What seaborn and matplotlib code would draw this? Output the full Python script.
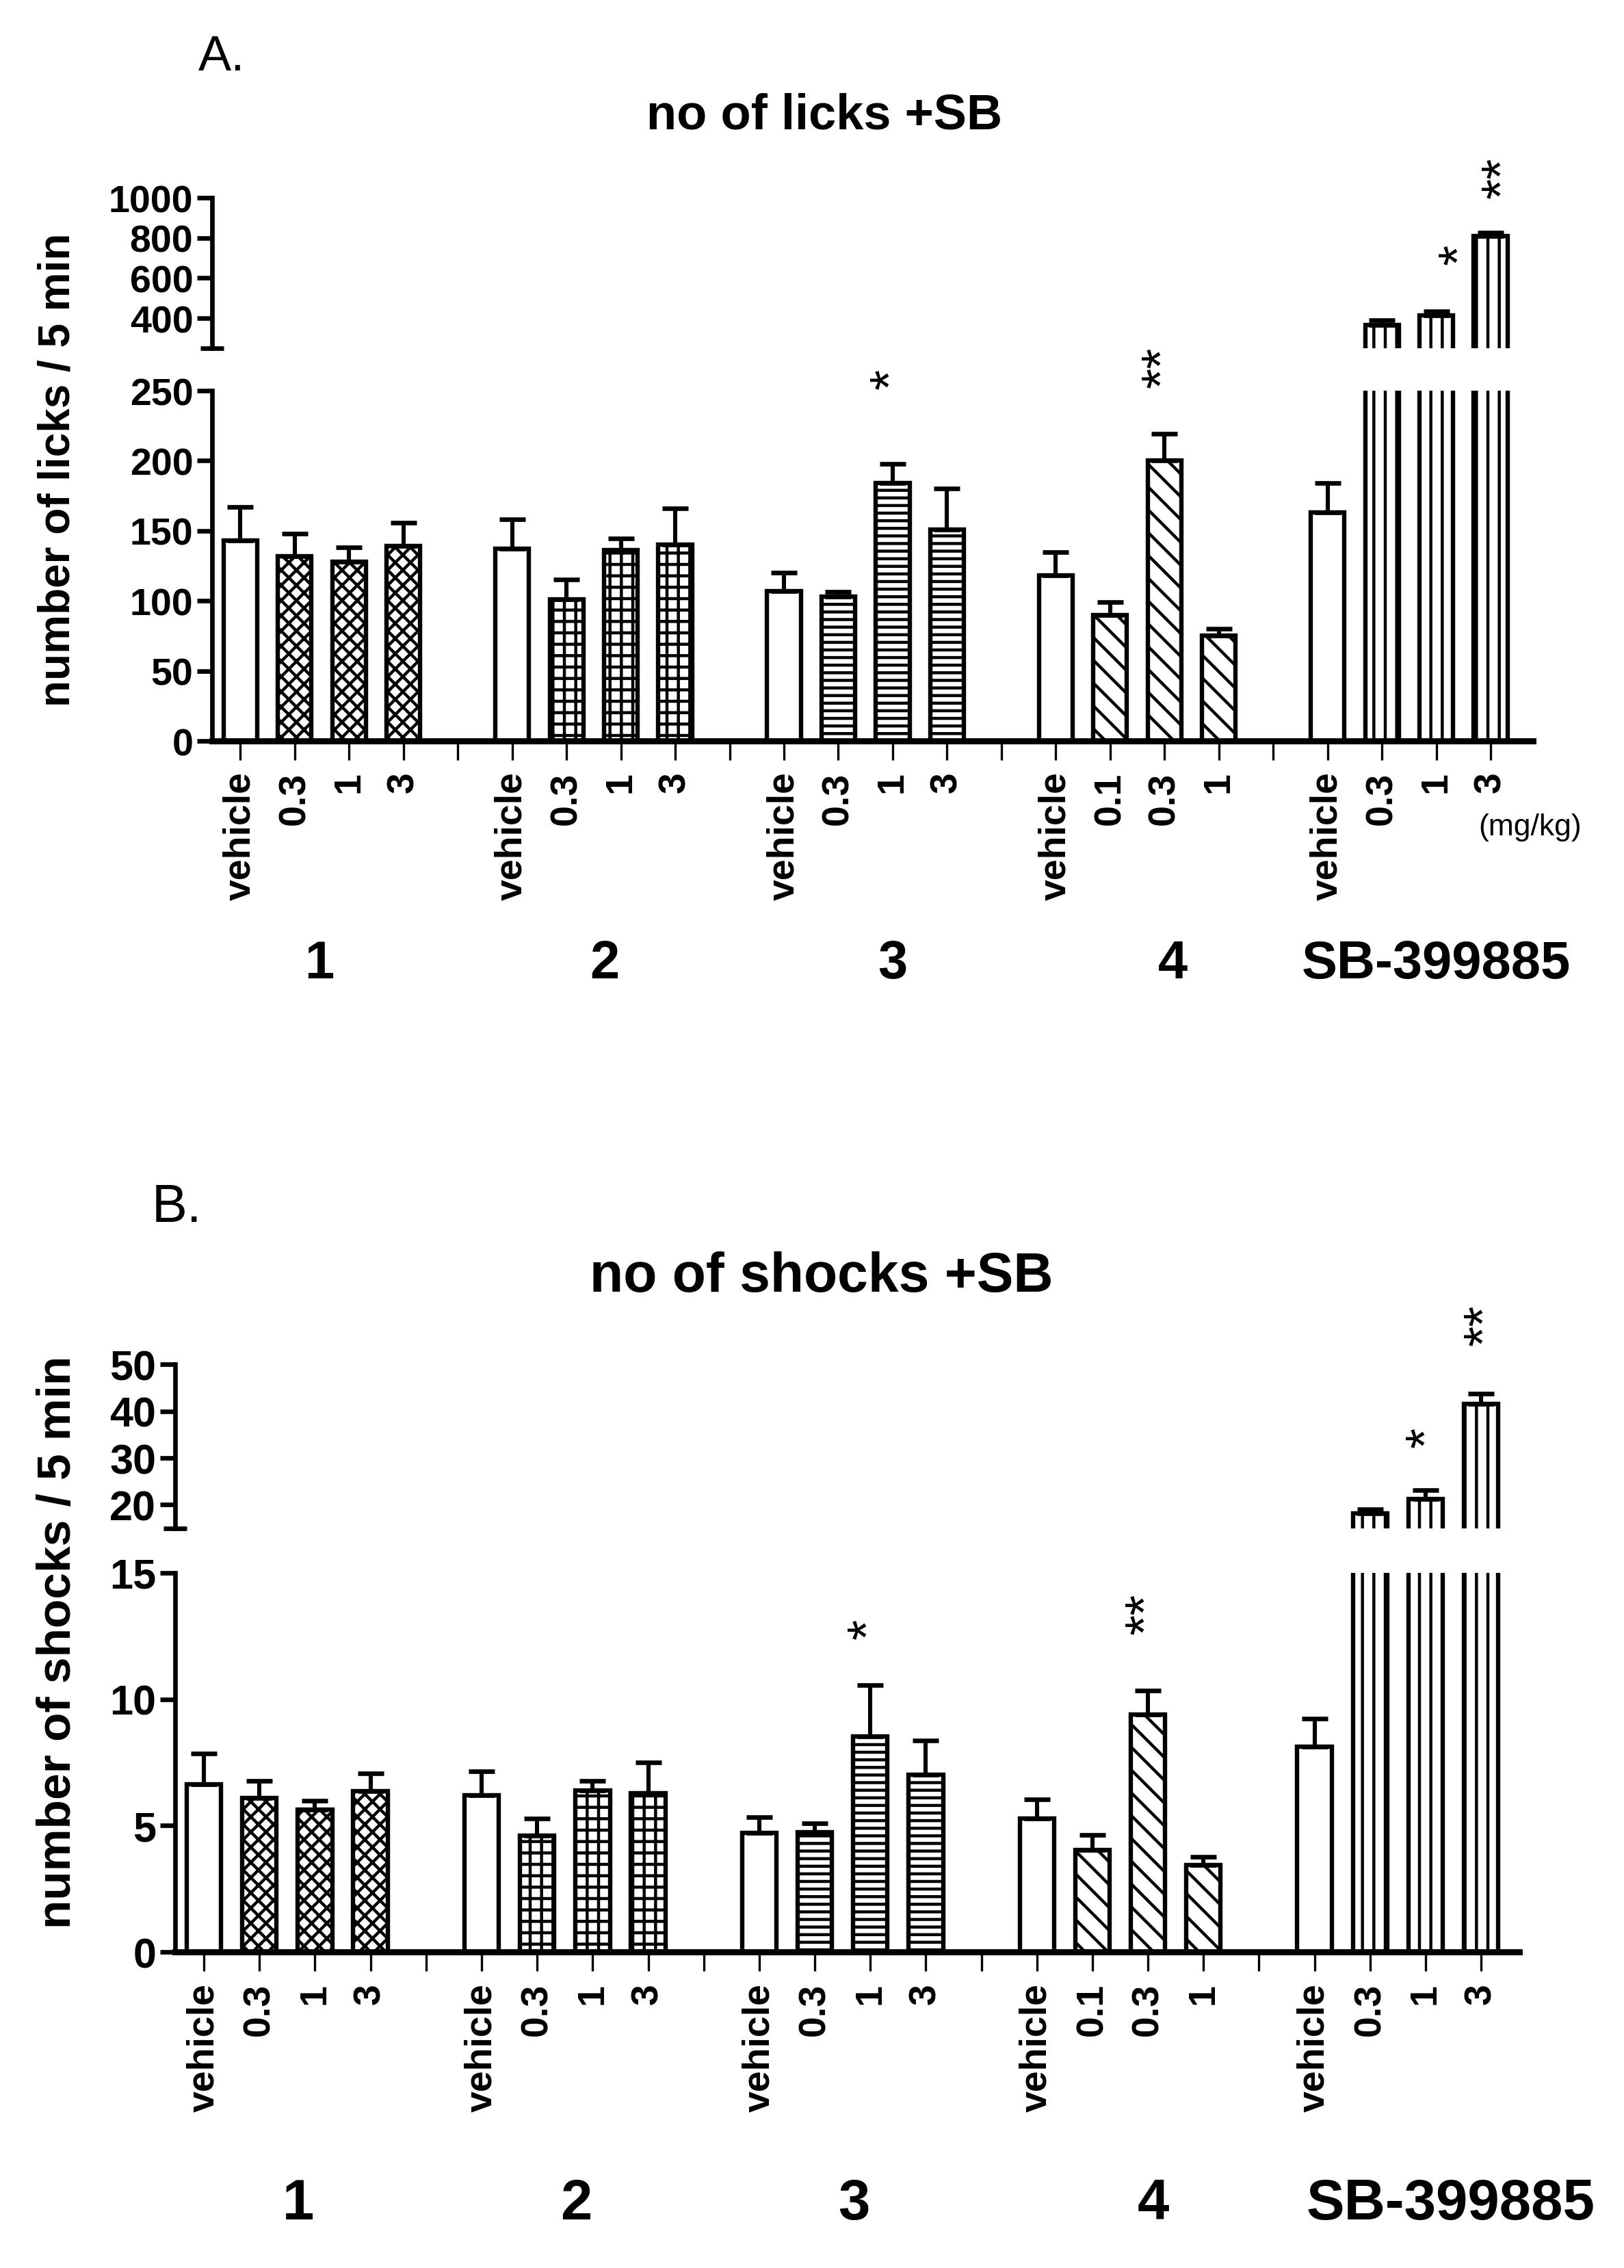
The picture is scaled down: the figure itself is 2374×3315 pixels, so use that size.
import numpy as np
import pandas as pd
import seaborn as sns
import matplotlib
matplotlib.use('Agg')
from matplotlib import pyplot as plt
from matplotlib import transforms

# data
groups = ['1', '2', '3', '4', 'SB-399885']
doses = [['vehicle', '0.3', '1', '3'],
         ['vehicle', '0.3', '1', '3'],
         ['vehicle', '0.3', '1', '3'],
         ['vehicle', '0.1', '0.3', '1'],
         ['vehicle', '0.3', '1', '3']]

licks_mean = [143, 132, 128, 139, 137, 101, 136, 140, 107, 103, 184, 151,
              118, 90, 200, 75, 163, 366, 414, 810]
licks_sem = [24, 16, 10, 17, 21, 14, 8.5, 26, 13, 3.5, 14, 29,
             17, 9, 19, 5, 21, 24, 20, 17]

shocks_mean = [6.63, 6.09, 5.63, 6.36, 6.2, 4.62, 6.38, 6.29, 4.72, 4.74, 8.53, 7.01,
               5.29, 4.05, 9.39, 3.45, 8.12, 18.2, 21.3, 41.6]
shocks_sem = [1.22, 0.68, 0.35, 0.71, 0.95, 0.67, 0.38, 1.21, 0.62, 0.35, 2.02, 1.35,
              0.76, 0.58, 0.95, 0.31, 1.11, 0.9, 1.85, 2.1]

# significance marks: (x position, mark, y value)
licks_stars = [(12, '*', 259), (17, '**', 267), (22.45, '*', 722), (23.25, '**', 1105)]
shocks_stars = [(12, '*', 12.8), (17, '**', 13.4), (22.05, '*', 34.6), (23.1, '**', 58.5)]

group_hatch = ['xxx', '++', '---', '\\\\', '||']

sns.set_style('ticks')
plt.rcParams['font.family'] = ['Liberation Sans', 'DejaVu Sans']
plt.rcParams['font.weight'] = 'bold'
plt.rcParams['hatch.linewidth'] = 1.6
plt.rcParams['axes.linewidth'] = 2.4
for k in ['text.color', 'axes.labelcolor', 'axes.edgecolor', 'xtick.color', 'ytick.color']:
    plt.rcParams[k] = 'black'

pos = [g * 5 + i for g in range(len(groups)) for i in range(4)]
tick_labels = []
for g, d in enumerate(doses):
    tick_labels += d
    if g < len(groups) - 1:
        tick_labels.append('')
hatches = ['' if i == 0 else group_hatch[g] for g in range(len(groups)) for i in range(4)]


def bars(ax, df):
    sns.barplot(data=df, x='pos', y='mean', native_scale=True, width=0.62,
                color='white', edgecolor='black', linewidth=2.3, saturation=1,
                errorbar=None, ax=ax)
    for p, h in zip(ax.patches, hatches):
        p.set_hatch(h)
    ax.errorbar(df['pos'], df['mean'], yerr=[np.zeros(len(df)), df['sem']], fmt='none',
                ecolor='black', elinewidth=2.2, capsize=7, capthick=2.4)
    ax.set_xlabel('')
    ax.set_ylabel('')


def draw_panel(fig, left, width, top_rect, bot_rect, mean, sem, top_lim, bot_lim,
               top_ticks, bot_ticks, xlim, stars, fs):
    df = pd.DataFrame({'pos': pos, 'mean': mean, 'sem': sem})

    ax_t = fig.add_axes([left, top_rect[0], width, top_rect[1]])
    ax_b = fig.add_axes([left, bot_rect[0], width, bot_rect[1]])
    for ax in (ax_t, ax_b):
        bars(ax, df)
        ax.set_xlim(*xlim)
        sns.despine(ax=ax)
        ax.tick_params(axis='y', labelsize=fs, width=2.4, length=8, pad=2)

    ax_t.set_ylim(*top_lim)
    ax_t.set_yticks(top_ticks)
    ax_t.set_yticks([top_lim[0]], minor=True)
    ax_t.tick_params(axis='y', which='minor', direction='inout', length=12, width=2.4)
    ax_t.spines['bottom'].set_visible(False)
    ax_t.set_xticks([])

    ax_b.set_ylim(*bot_lim)
    ax_b.set_yticks(bot_ticks)
    ax_b.spines['bottom'].set_linewidth(3.2)
    ax_b.set_xticks(range(len(tick_labels)))
    ax_b.set_xticklabels(tick_labels, rotation=90, fontsize=20)
    ax_b.tick_params(axis='x', length=10, width=1.2, pad=6)

    cut = bot_lim[1]
    for x, s, y in stars:
        ax = ax_t if y > cut * 1.5 or (y > top_lim[0] * 1.3 and y > cut * 1.2) else ax_b
        ax.text(x, y, s, rotation=90, ha='center', va='center', fontsize=28,
                fontweight='normal', clip_on=False)
    return ax_t, ax_b


fig = plt.figure(figsize=(11.87, 16.58), dpi=200)

# panel A
a_t, a_b = draw_panel(fig, 0.1306, 0.8134, (0.8462, 0.0663), (0.6731, 0.1544),
                      licks_mean, licks_sem, (250, 1000), (0, 250),
                      [400, 600, 800, 1000], [0, 50, 100, 150, 200, 250],
                      (-0.52, 23.78), licks_stars, 20)
# panel B
b_t, b_b = draw_panel(fig, 0.1078, 0.8278, (0.3261, 0.0722), (0.1392, 0.1673),
                      shocks_mean, shocks_sem, (15, 50), (0, 15),
                      [20, 30, 40, 50], [0, 5, 10, 15],
                      (-0.52, 23.69), shocks_stars, 22)

fig.text(0.1365, 0.9744, 'A.', ha='center', va='center', fontsize=26, fontweight='normal')
fig.text(0.5076, 0.949, 'no of licks +SB', ha='center', va='center', fontsize=26)
fig.text(0.0358, 0.7928, 'number of licks / 5 min', rotation=90, ha='center', va='center', fontsize=23)

fig.text(0.1087, 0.4677, 'B.', ha='center', va='center', fontsize=28, fontweight='normal')
fig.text(0.506, 0.437, 'no of shocks +SB', ha='center', va='center', fontsize=29)
fig.text(0.0358, 0.2762, 'number of shocks / 5 min', rotation=90, ha='center', va='center', fontsize=25)

group_x_a = [1.45, 6.7, 12.0, 17.15, 22.0]
group_x_b = [1.7, 6.7, 11.7, 17.1, 22.45]
tr_a = transforms.blended_transform_factory(a_b.transData, fig.transFigure)
tr_b = transforms.blended_transform_factory(b_b.transData, fig.transFigure)
for gx, name in zip(group_x_a, groups):
    fig.text(gx, 0.575, name, transform=tr_a, ha='center', va='center', fontsize=28)
for gx, name in zip(group_x_b, groups):
    fig.text(gx, 0.0284, name, transform=tr_b, ha='center', va='center', fontsize=30)
fig.text(23.72, 0.6354, '(mg/kg)', transform=tr_a, ha='center', va='center',
         fontsize=16, fontweight='normal')

fig.savefig('out.png', dpi=200, facecolor='white')
